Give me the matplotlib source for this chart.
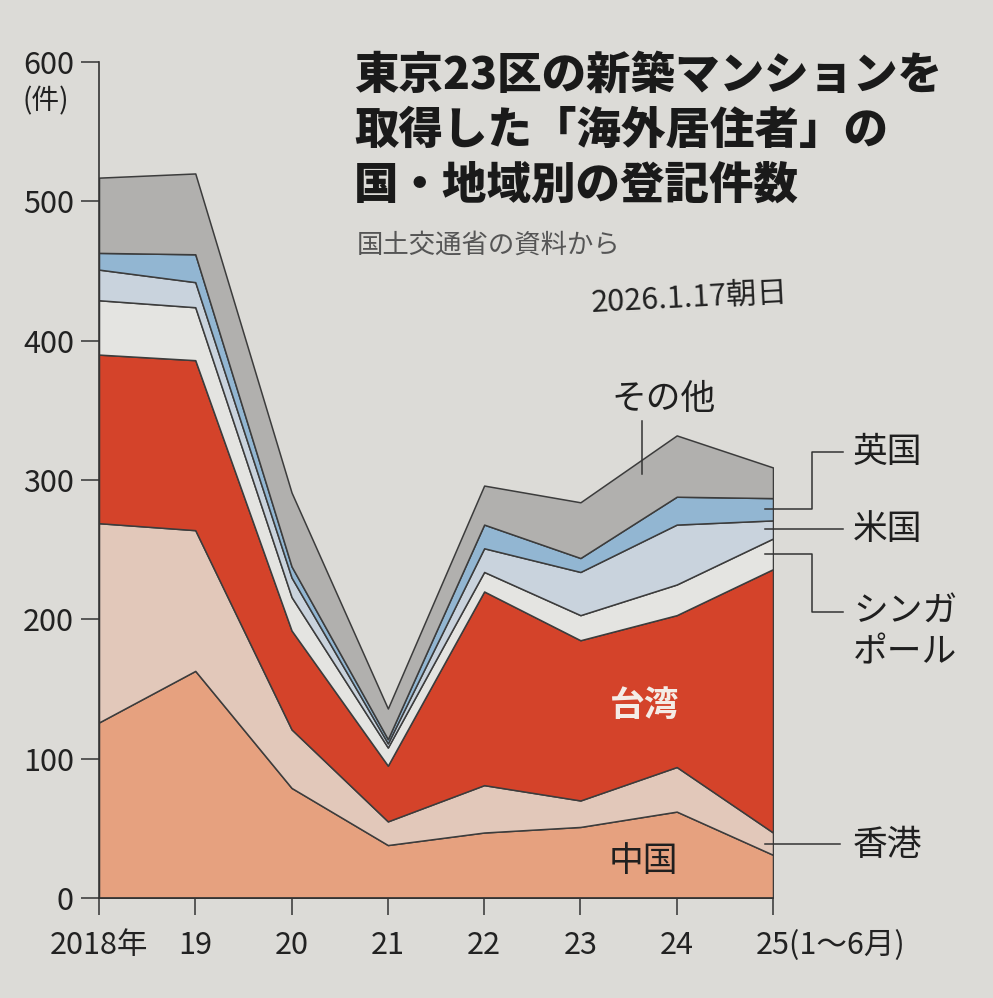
import matplotlib
matplotlib.use("Agg")
import matplotlib.pyplot as plt
import matplotlib.transforms as mtransforms
import numpy as np

plt.rcParams['font.family'] = ['Noto Sans CJK JP', 'DejaVu Sans']

# ---- data ----
years = ["2018年", "19", "20", "21", "22", "23", "24", "25(1〜6月)"]
china     = [126, 163, 79, 38, 47, 51, 62, 31]
hongkong  = [143, 101, 42, 17, 34, 19, 32, 16]
taiwan    = [121, 122, 71, 40, 139, 115, 109, 189]
singapore = [39, 38, 24, 13, 14, 18, 22, 22]
usa       = [22, 18, 14, 3, 17, 31, 43, 13]
uk        = [12, 20, 8, 3, 17, 10, 20, 16]
other     = [54, 58, 53, 22, 28, 40, 44, 22]

series_names = ["中国", "香港", "台湾", "シンガポール", "米国", "英国", "その他"]
series = [china, hongkong, taiwan, singapore, usa, uk, other]
colors = ["#e6a17f", "#e2c8ba", "#d4432a", "#e4e4e1", "#c9d3dd", "#92b6d2", "#b1b0ae"]
yticks = [0, 100, 200, 300, 400, 500, 600]

bg = "#dcdbd7"
fig = plt.figure(figsize=(9.93, 9.98), dpi=100, facecolor=bg)
ax = fig.add_axes([99/993, 100/998, 674/993, 836/998])
ax.set_facecolor(bg)

x = np.arange(len(years))
base = np.zeros(len(years))
tops = []
for vals, col in zip(series, colors):
    top = base + np.array(vals)
    ax.fill_between(x, base, top, facecolor=col, edgecolor="#3c3c3c",
                    linewidth=1.1, zorder=2)
    tops.append((base.copy(), top.copy()))
    base = top

ax.set_xlim(0, 7)
ax.set_ylim(0, 600)
for s in ["top", "right"]:
    ax.spines[s].set_visible(False)
ax.spines["left"].set_bounds(0, 600)
ax.spines["bottom"].set_bounds(0, 7)
for s in ["left", "bottom"]:
    ax.spines[s].set_color("#333333")
    ax.spines[s].set_linewidth(1.2)
    ax.spines[s].set_zorder(5)

ax.set_yticks(yticks)
ax.set_yticklabels([str(v) for v in yticks])
ax.set_xticks(x)
ax.set_xticklabels(years)
ax.tick_params(axis="y", direction="out", length=13, width=1.1, color="#333333",
               pad=5, labelsize=22, labelcolor="#222222")
ax.tick_params(axis="x", direction="out", length=12, width=1.1, color="#333333",
               pad=11, labelsize=22, labelcolor="#222222")
lbl = ax.get_xticklabels()[-1]
lbl.set_ha("left")
lbl.set_transform(lbl.get_transform() +
                  mtransforms.ScaledTranslation(-0.17, 0, fig.dpi_scale_trans))

# unit label
ax.text(-0.55, 572, "(件)", fontsize=20, color="#222222", ha="center", va="center")

# title and source
title_lines = ["東京23区の新築マンションを", "取得した「海外居住者」の", "国・地域別の登記件数"]
for i, line in enumerate(title_lines):
    fig.text(354/993, 1 - (75 + 55 * i)/998, line, fontsize=32, weight="heavy",
             color="#1a1a1a", ha="left", va="center")
fig.text(357/993, 1 - 245/998, "国土交通省の資料から", fontsize=19, color="#555555",
         ha="left", va="center")
fig.text(590/993, 1 - 298/998, "2026.1.17朝日", fontsize=22, color="#222222",
         style="italic", ha="left", va="center", rotation=3)

# labels inside areas
ax.text(5.67, 138, "台湾", fontsize=25, weight="bold", color="#f4ece6",
        ha="center", va="center", zorder=6)
ax.text(5.65, 26, "中国", fontsize=25, color="#1f1f1f", ha="center", va="center", zorder=6)

# その他 label with leader
ax.text(5.86, 358, "その他", fontsize=25, color="#1f1f1f", ha="center", va="center")
ax.plot([5.64, 5.64], [304, 342], color="#333333", lw=1.1, zorder=6)

lc = "#333333"
def mid(i, k):
    b, t = tops[i]
    return (b[k] + t[k]) / 2

k = len(years) - 1
# 英国
y_uk = mid(5, k)
ax.plot([6.92, 7.40, 7.40, 7.73], [y_uk, y_uk, 320, 320], color=lc, lw=1.1,
        clip_on=False, zorder=6)
ax.text(7.83, 320, "英国", fontsize=25, color="#1f1f1f", ha="left", va="center")
# 米国
y_us = mid(4, k)
ax.plot([6.92, 7.73], [y_us, y_us], color=lc, lw=1.1, clip_on=False, zorder=6)
ax.text(7.83, y_us, "米国", fontsize=25, color="#1f1f1f", ha="left", va="center")
# シンガポール
y_sg = mid(3, k)
ax.plot([6.92, 7.40, 7.40, 7.73], [y_sg, y_sg, 205, 205], color=lc, lw=1.1,
        clip_on=False, zorder=6)
ax.text(7.83, 205, "シンガ", fontsize=25, color="#1f1f1f", ha="left", va="center")
ax.text(7.83, 176, "ポール", fontsize=25, color="#1f1f1f", ha="left", va="center")
# 香港
y_hk = mid(1, k)
ax.plot([6.92, 7.70], [y_hk, y_hk], color=lc, lw=1.1, clip_on=False, zorder=6)
ax.text(7.83, y_hk - 1, "香港", fontsize=25, color="#1f1f1f", ha="left", va="center")

fig.savefig("out.png", dpi=100, facecolor=bg)
